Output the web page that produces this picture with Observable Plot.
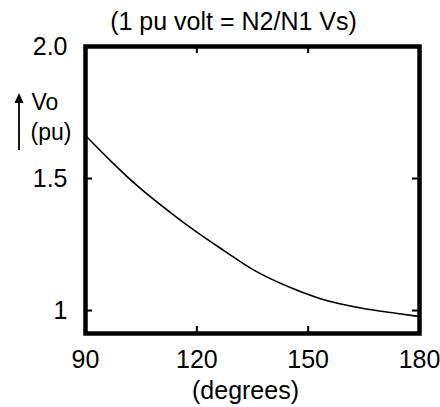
<!DOCTYPE html>
<html>
<head>
<meta charset="utf-8">
<script src="https://cdn.jsdelivr.net/npm/d3@7"></script>
<script src="https://cdn.jsdelivr.net/npm/@observablehq/plot@0.6"></script>
<style>
  html, body { margin: 0; padding: 0; background: #fff; }
  svg { font-family: "Liberation Sans", Arial, Helvetica, sans-serif; }
</style>
</head>
<body>
<div id="chart"></div>
<script>
// Data
const angleDeg = [90, 96.7, 104, 112.9, 118.3, 127.2, 135.5, 145.2, 153.3, 164.9, 174.1, 180];
const voltPu   = [1.663, 1.568, 1.472, 1.371, 1.314, 1.228, 1.152, 1.087, 1.045, 1.008, 0.989, 0.977];
const xTicks = [90, 120, 150, 180];
const xInnerTicks = [120, 150];
const yTicks = [1, 1.5, 2.0];
const yTickLabels = ["1", "1.5", "2.0"];
const yInnerTicks = [1, 1.5];
const titleText = "(1 pu volt = N2/N1 Vs)";
const xLabel = "(degrees)";
const yLabel1 = "Vo";
const yLabel2 = "(pu)";

const points = angleDeg.map((a, i) => ({angle: a, v: voltPu[i]}));

const W = 440, H = 407, ML = 85, MR = 21, MT = 46, MB = 74;
const PW = W - ML - MR, PH = H - MT - MB;
const TICK = 7;

const upArrow = (index, scales, values, dim) => {
  const ns = "http://www.w3.org/2000/svg";
  const g = document.createElementNS(ns, "g");
  const x = dim.marginLeft - 66;
  const yTop = dim.marginTop + 47;
  const yBot = dim.marginTop + 104;
  const line = document.createElementNS(ns, "line");
  line.setAttribute("x1", x); line.setAttribute("x2", x);
  line.setAttribute("y1", yTop + 6); line.setAttribute("y2", yBot);
  line.setAttribute("stroke", "black"); line.setAttribute("stroke-width", 1.8);
  g.appendChild(line);
  const head = document.createElementNS(ns, "path");
  head.setAttribute("d", `M${x - 4.5},${yTop + 10} L${x},${yTop} L${x + 4.5},${yTop + 10} Z`);
  head.setAttribute("fill", "black");
  g.appendChild(head);
  return g;
};

const chart = Plot.plot({
  width: W,
  height: H,
  marginLeft: ML,
  marginRight: MR,
  marginTop: MT,
  marginBottom: MB,
  style: {fontFamily: "Liberation Sans, Arial, Helvetica, sans-serif", background: "white", color: "black"},
  x: {domain: [90, 180]},
  y: {domain: [0.913, 2.0]},
  marks: [
    // tick labels
    Plot.axisX({anchor: "bottom", ticks: xTicks, tickSize: 0, tickPadding: 17, fontSize: 25, label: null}),
    Plot.axisY({anchor: "left", ticks: yTicks, tickSize: 0, tickPadding: 18, fontSize: 25, label: null,
      tickFormat: d => yTickLabels[yTicks.indexOf(d)]}),
    // inward ticks on all four sides
    Plot.ruleX(xInnerTicks, {x: d => d, insetTop: PH - TICK, stroke: "black", strokeWidth: 2}),
    Plot.ruleX(xInnerTicks, {x: d => d, insetBottom: PH - TICK, stroke: "black", strokeWidth: 2}),
    Plot.ruleY(yInnerTicks, {y: d => d, insetRight: PW - TICK, stroke: "black", strokeWidth: 2}),
    Plot.ruleY(yInnerTicks, {y: d => d, insetLeft: PW - TICK, stroke: "black", strokeWidth: 2}),
    // curve
    Plot.line(points, {x: "angle", y: "v", curve: "monotone-x", stroke: "black", strokeWidth: 1.6}),
    Plot.frame({stroke: "black", strokeWidth: 4.5}),
    // texts
    Plot.text([titleText], {frameAnchor: "top", lineAnchor: "middle", dy: -25, dx: -19, fontSize: 25, fill: "black"}),
    Plot.text([xLabel], {frameAnchor: "bottom", lineAnchor: "middle", dy: 57.5, dx: -7, fontSize: 25, fill: "black"}),
    Plot.text([yLabel1], {frameAnchor: "top-left", lineAnchor: "middle", dx: -54, dy: 56.5, textAnchor: "start", fontSize: 23, fill: "black"}),
    Plot.text([yLabel2], {frameAnchor: "top-left", lineAnchor: "middle", dx: -55, dy: 86, textAnchor: "start", fontSize: 23, fill: "black"}),
    upArrow
  ]
});
document.getElementById("chart").appendChild(chart);
</script>
</body>
</html>
